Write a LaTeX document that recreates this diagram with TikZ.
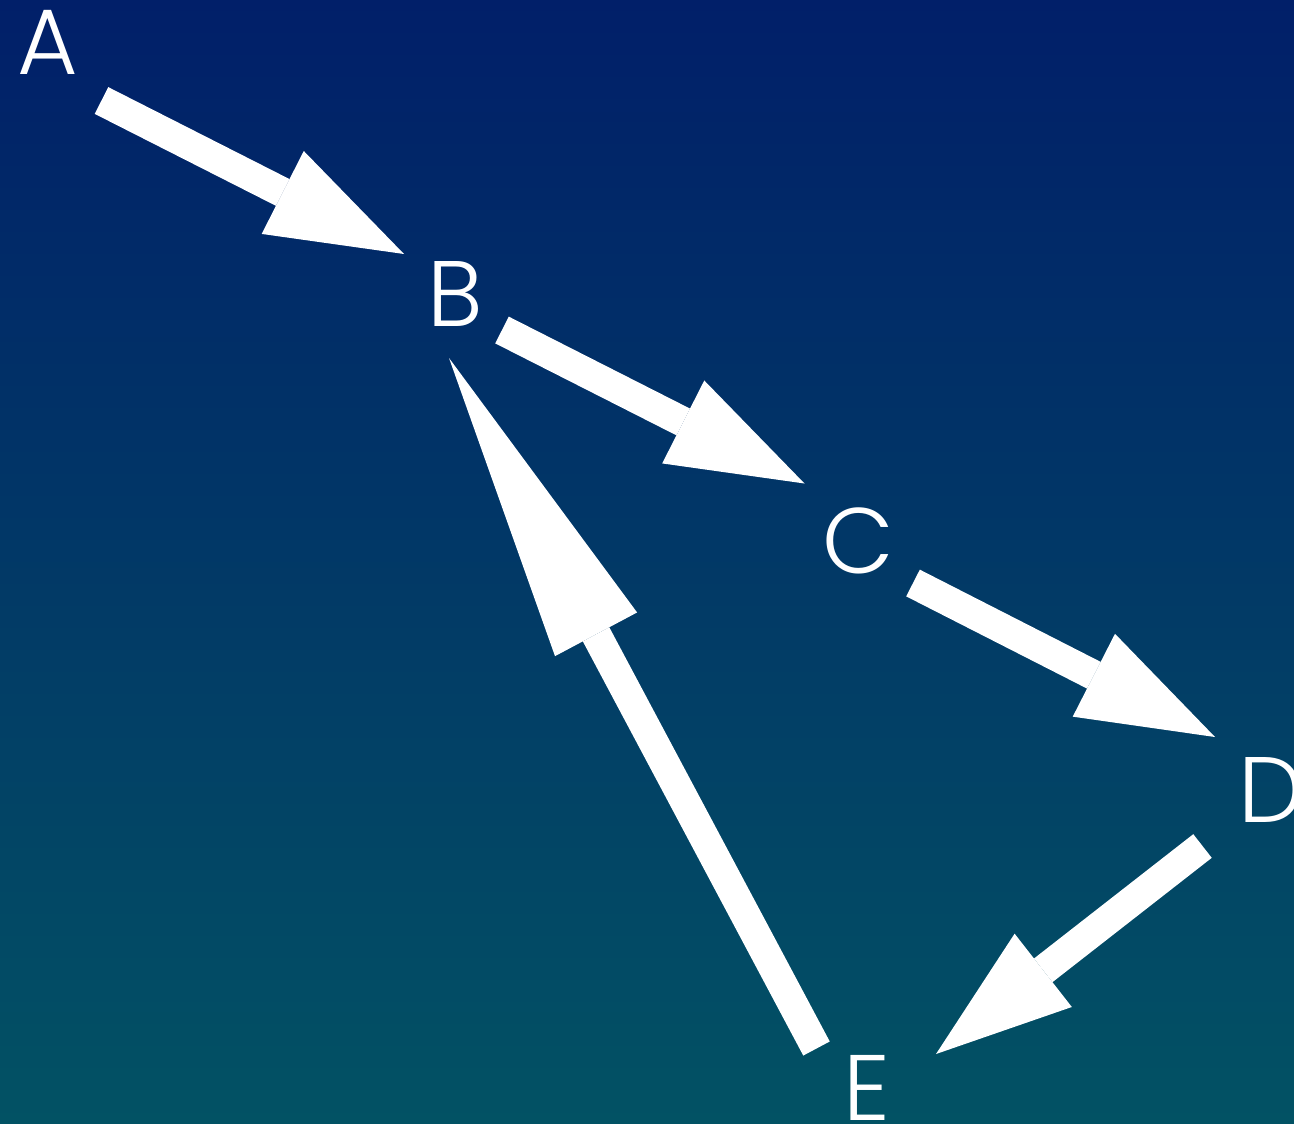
\documentclass[tikz,border=0pt]{standalone}
\usepackage{fontspec}
\setmainfont{Poppins Light}
\usetikzlibrary{arrows.meta}
\definecolor{bgtop}{HTML}{011F69}
\definecolor{bgbot}{HTML}{025264}
\begin{document}
\begin{tikzpicture}[x=0.5pt,y=-0.5pt,
  lbl/.style={text=white,inner sep=0pt,anchor=center,font=\fontsize{46.5}{50}\selectfont},
  conn/.style={draw=white,line width=15pt,-{Triangle[length=68pt,width=46.5pt,line width=0pt]}},
  connlong/.style={draw=white,line width=15pt,-{Triangle[length=156.5pt,width=46.5pt,line width=0pt]}}]
\useasboundingbox (0,0) rectangle (1294,1123);
\shade[top color=bgtop,bottom color=bgbot] (0,0) rectangle (1294,1123);
\node[lbl] (A) at (48,42.5) {A};
\node[lbl] (B) at (455.5,293.5) {B};
\node[lbl] (C) at (858,541) {C};
\node[lbl] (D) at (1271,789.5) {D};
\node[lbl] (E) at (866.5,1087.5) {E};
\draw[conn] ([shift={(53.5,58)}]A.center) -- ([shift={(-51.5,-39.5)}]B.center);
\draw[conn] ([shift={(46.5,36.5)}]B.center) -- ([shift={(-53.5,-57.5)}]C.center);
\draw[conn] ([shift={(55,42)}]C.center) -- ([shift={(-56,-52.5)}]D.center);
\draw[conn] ([shift={(-68.5,56.5)}]D.center) -- ([shift={(69.5,-33.5)}]E.center);
\draw[connlong] ([shift={(-50,-39)}]E.center) -- ([shift={(-6.5,64.5)}]B.center);
\end{tikzpicture}
\end{document}
